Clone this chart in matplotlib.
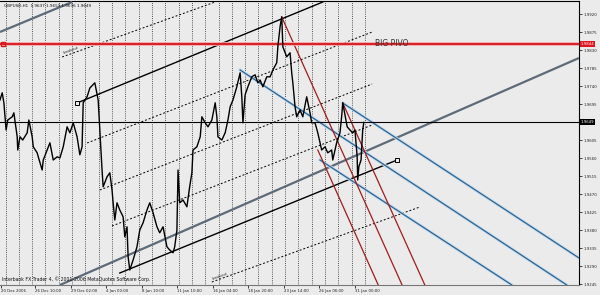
import matplotlib
matplotlib.use('Agg')
import matplotlib.pyplot as plt
from matplotlib.transforms import blended_transform_factory

# ---- price series (bar index, price) ----
bars = [0, 4, 7, 11, 14, 22, 25, 31, 32, 36, 41, 49, 52, 58, 60, 67, 69, 76, 78, 85, 90, 96, 103, 108, 114,
        121, 126, 132, 139, 144, 148, 150, 157, 162, 171, 177, 180, 184, 186, 193, 198, 202, 204, 207, 211,
        216, 222, 225, 229, 231, 234, 240, 247, 252, 258, 265, 270, 276, 283, 288, 294, 301, 306, 312, 315,
        319, 321, 324, 330, 337, 342, 346, 348, 355, 361, 364, 370, 375, 382, 388, 391, 393, 400, 406, 411,
        415, 420, 427, 433, 436, 438, 442, 447, 454, 460, 465, 469, 474, 481, 487, 492, 499, 501, 505, 508,
        510, 517, 523, 526, 528, 532, 535, 541, 546, 553, 559, 562, 568, 573, 580, 586, 591, 598, 600, 607,
        613, 616, 618, 626, 631, 636, 640, 644, 645, 647, 651, 654, 656]
prices = [1.9705, 1.9723, 1.9698, 1.9630, 1.9655, 1.9663, 1.9673, 1.9613, 1.9580, 1.9613, 1.9605, 1.9623,
          1.9655, 1.9613, 1.9588, 1.9573, 1.9563, 1.9530, 1.9555, 1.9580, 1.9598, 1.9555, 1.9563, 1.9560,
          1.9588, 1.9638, 1.9623, 1.9648, 1.9613, 1.9568, 1.9588, 1.9698, 1.9713, 1.9735, 1.9748, 1.9705,
          1.9630, 1.9530, 1.9488, 1.9513, 1.9523, 1.9480, 1.9448, 1.9405, 1.9448, 1.9430, 1.9413, 1.9363,
          1.9388, 1.9313, 1.9280, 1.9305, 1.9338, 1.9380, 1.9398, 1.9430, 1.9448, 1.9423, 1.9388, 1.9373,
          1.9388, 1.9338, 1.9330, 1.9323, 1.9338, 1.9380, 1.9530, 1.9448, 1.9455, 1.9438, 1.9488, 1.9523,
          1.9580, 1.9588, 1.9613, 1.9663, 1.9648, 1.9638, 1.9655, 1.9698, 1.9663, 1.9613, 1.9605, 1.9623,
          1.9655, 1.9688, 1.9705, 1.9738, 1.9773, 1.9713, 1.9648, 1.9718, 1.9738, 1.9763, 1.9768, 1.9748,
          1.9755, 1.9738, 1.9763, 1.9763, 1.9780, 1.9798, 1.9838, 1.9888, 1.9913, 1.9838, 1.9813, 1.9823,
          1.9773, 1.9748, 1.9688, 1.9663, 1.9680, 1.9663, 1.9713, 1.9673, 1.9648, 1.9648, 1.9623, 1.9580,
          1.9588, 1.9573, 1.9580, 1.9555, 1.9598, 1.9623, 1.9663, 1.9698, 1.9638, 1.9630, 1.9623, 1.9630,
          1.9563, 1.9505, 1.9538, 1.9555, 1.9630, 1.9649]

# ---- axis labels ----
time_ticks = [2, 64, 128, 192, 256, 320, 384, 448, 512, 576, 640]
time_labels = ['20 Dec 2006', '26 Dec 10:00', '29 Dec 02:00', '4 Jan 00:00', '8 Jan 10:00', '11 Jan 10:00',
               '16 Jan 04:00', '18 Jan 20:00', '23 Jan 14:00', '26 Jan 06:00', '31 Jan 00:00']
price_ticks = [1.9920, 1.9875, 1.9830, 1.9785, 1.9740, 1.9695, 1.9605, 1.9560, 1.9515, 1.9470, 1.9425,
               1.9380, 1.9335, 1.9290, 1.9245]
grid_bars = list(range(10, 659, 24))

pivot_price = 1.9844
bid_price = 1.9649

# ---- drawn objects (bar, price) anchors ----
gray_lines = [[(108, 1.92425), (1044, 1.9810)], [(0, 1.9875), (130, 1.9950)]]
black_lines = [[(139, 1.96975), (582, 1.9950)], [(216, 1.92725), (716, 1.9555)]]
dotted_lines = [[(157, 1.95975), (671, 1.9875)], [(180, 1.9480), (671, 1.9745)],
                [(202, 1.9390), (671, 1.96425)], [(112, 1.98125), (388, 1.9950)],
                [(382, 1.9250), (757, 1.94375)]]
red_lines = [[(508, 1.99125), (725, 1.92425)], [(618, 1.96975), (766, 1.92425)],
             [(573, 1.9580), (682, 1.92425)]]
blue_lines = [[(433, 1.9780), (1022, 1.92425)], [(618, 1.96975), (1044, 1.9310)],
              [(577, 1.9555), (923, 1.92425)]]
squares = [(139, 1.96975), (716, 1.9555)]

BG = '#ebebeb'
fig = plt.figure(figsize=(6, 2.95), dpi=100, facecolor=BG)
ax = fig.add_axes([0.0, 10 / 295, 579 / 600, 284 / 295])
ax.set_facecolor(BG)
ax.set_xlim(0, 1044)
ax.set_ylim(1.92425, 1.99525)

for b in grid_bars:
    ax.axvline(b, color='#222222', lw=0.6, ls=(0, (1, 1.6)), zorder=1)

def seg(pts, **kw):
    ax.plot([p[0] for p in pts], [p[1] for p in pts], **kw)

for pts in dotted_lines:
    seg(pts, color='black', lw=0.7, ls=(0, (2, 2)), zorder=2)
for pts in gray_lines:
    seg(pts, color='#5d6b78', lw=1.6, zorder=3, solid_capstyle='butt')
for pts in black_lines:
    seg(pts, color='black', lw=1.0, zorder=3)
for pts in blue_lines:
    seg(pts, color='#c6dbec', lw=2.2, zorder=3)
    seg(pts, color='#2a6493', lw=0.9, zorder=3)
for pts in red_lines:
    seg(pts, color='#a01c1c', lw=0.9, zorder=3)

ax.axhline(pivot_price, color='#f4a5a5', lw=2.6, zorder=3)
ax.axhline(pivot_price, color='#d8141c', lw=1.3, zorder=3)
ax.axhline(bid_price, color='black', lw=0.8, zorder=3)
ax.plot([6], [pivot_price], marker='s', ms=3, mfc='none', mec='#d8141c', zorder=4)

for b, p in squares:
    ax.plot([b], [p], marker='s', ms=2.6, mfc=BG, mec='black', mew=0.7, zorder=6)

ax.plot(bars, prices, color='black', lw=1.0, zorder=5)

ax.text(676, pivot_price + 0.0002, 'BIG PIVO', fontsize=5.5, color='#333333', va='center', ha='left', zorder=6)
ax.text(112, 1.9818, 'breakout', fontsize=2.6, rotation=20, color='#222222', ha='left', va='bottom')
ax.text(382, 1.9252, 'breakout', fontsize=2.6, rotation=20, color='#222222', ha='left', va='bottom')

ax.text(0.007, 0.99, 'GBPUSD,H1  1.9637 1.9651 1.9636 1.9649', transform=ax.transAxes,
        fontsize=3, va='top', ha='left', color='#111111', zorder=7)
ax.text(0.004, 0.012, 'Interbank FX Trader 4, \u00a9 2001-2006 MetaQuotes Software Corp.', transform=ax.transAxes,
        fontsize=3.3, va='bottom', ha='left', color='#111111', zorder=7)

ax.yaxis.tick_right()
ax.set_yticks(price_ticks)
ax.set_yticklabels([f'{p:.4f}' for p in price_ticks])
ax.set_xticks(time_ticks)
ax.set_xticklabels(time_labels)
for lbl in ax.get_xticklabels():
    lbl.set_ha('left')
ax.tick_params(axis='both', labelsize=2.8, length=2, width=0.6, pad=1.2, colors='#222222')

tr = blended_transform_factory(ax.transAxes, ax.transData)
ax.text(1.003, pivot_price, '1.9844', transform=tr, fontsize=2.8, color='white', va='center', ha='left',
        bbox=dict(boxstyle='square,pad=0.25', fc='#e0141c', ec='none'), clip_on=False, zorder=8)
ax.text(1.003, bid_price, '1.9649', transform=tr, fontsize=2.8, color='white', va='center', ha='left',
        bbox=dict(boxstyle='square,pad=0.25', fc='black', ec='none'), clip_on=False, zorder=8)

ax.spines['left'].set_visible(False)
ax.spines['right'].set_color('black')
ax.spines['right'].set_linewidth(0.8)
ax.spines['top'].set_color('black')
ax.spines['top'].set_linewidth(0.8)
ax.spines['bottom'].set_color('#777777')
ax.spines['bottom'].set_linewidth(0.8)

fig.savefig('out.png', dpi=100, facecolor=BG)
